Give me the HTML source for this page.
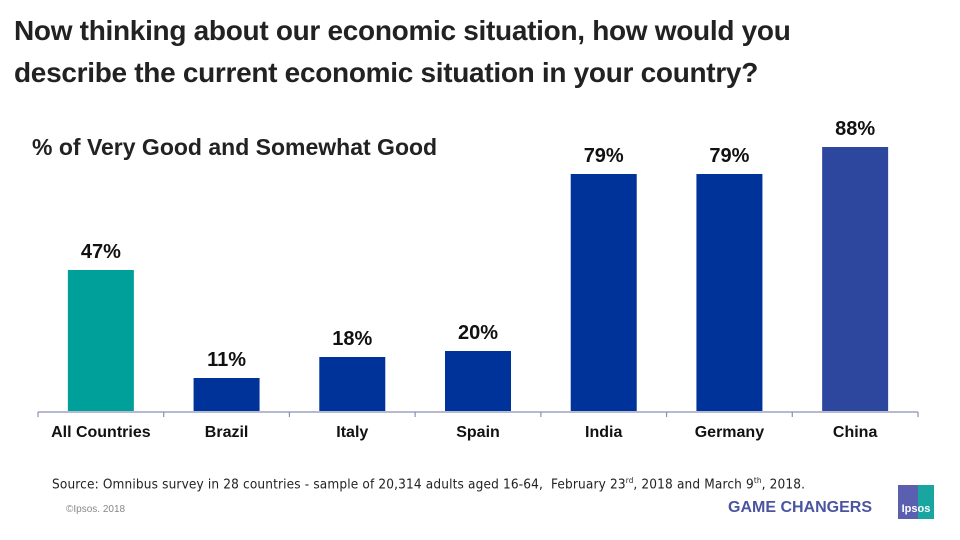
<!DOCTYPE html>
<html><head><meta charset="utf-8"><style>
body{margin:0;width:960px;height:540px;background:#fff;position:relative;overflow:hidden;font-family:"Liberation Sans",sans-serif}
.title{position:absolute;left:14px;top:10px;font-size:28px;font-weight:bold;color:#222;line-height:42px;letter-spacing:-0.3px}
.sub{position:absolute;left:32px;top:134px;font-size:23px;font-weight:bold;color:#222}
.src{position:absolute;left:52px;top:476px;font-size:13.5px;color:#222;font-family:"DejaVu Sans Condensed","Liberation Sans",sans-serif;letter-spacing:0.15px}
.copy{position:absolute;left:66px;top:504px;font-size:10px;color:#888}
.gc{position:absolute;left:728px;top:499px;font-size:16px;font-weight:bold;color:#4b54a0}
.logo{position:absolute;left:898px;top:485px;width:36px;height:34px;background:linear-gradient(90deg,#5a5fb0 55%,#1aa6a0 55%);color:#fff;font-size:11px;font-weight:bold;text-align:center;line-height:48px}
</style></head><body>
<div class="title">Now thinking about our economic situation, how would you<br>describe the current economic situation in your country?</div>
<div class="sub">% of Very Good and Somewhat Good</div>
<svg id="chart" width="960" height="540" style="position:absolute;left:0;top:0"></svg>
<div class="src">Source: Omnibus survey in 28 countries - sample of 20,314 adults aged 16-64,&nbsp; February 23<sup style="font-size:8px">rd</sup>, 2018 and March 9<sup style="font-size:8px">th</sup>, 2018.</div>
<div class="copy">©Ipsos. 2018</div>
<div class="gc">GAME CHANGERS</div>
<div class="logo">Ipsos</div>
<script>
const categories=["All Countries","Brazil","Italy","Spain","India","Germany","China"];
const values=[47,11,18,20,79,79,88];
const colors=["#00a09a","#003399","#003399","#003399","#003399","#003399","#2e479e"];
const NS="http://www.w3.org/2000/svg";
const svg=document.getElementById('chart');
const x0=38,x1=918,base=411,scale=3;
const bw=(x1-x0)/categories.length;
function xc(i){return x0+bw*(i+0.5);}
function y(v){return base-v*scale;}
function mk(t,a){const e=document.createElementNS(NS,t);for(const k in a)e.setAttribute(k,a[k]);svg.appendChild(e);return e;}
values.forEach((v,i)=>{
 const r=mk('rect',{x:xc(i)-33,y:y(v),width:66,height:base-y(v),fill:colors[i]});
 
 
 const t=mk('text',{x:xc(i),y:y(v)-12,'text-anchor':'middle','font-size':20,'font-weight':'bold',fill:'#111','font-family':'Liberation Sans, sans-serif'});
 t.textContent=v+'%';
 
 
 const c=mk('text',{x:xc(i),y:437,'text-anchor':'middle','font-size':16,'font-weight':'bold',fill:'#111','font-family':'Liberation Sans, sans-serif'});
 c.textContent=categories[i];
 
 
});
const ax=mk('line',{x1:x0,x2:x1,y1:base+1,y2:base+1,stroke:'#8a8fb5','stroke-width':1.2});


for(let i=0;i<=categories.length;i++){
 const tk=mk('line',{x1:x0+bw*i,x2:x0+bw*i,y1:base+1,y2:base+6,stroke:'#8a8fb5','stroke-width':1.2});
 
 
}
</script>
</body></html>
